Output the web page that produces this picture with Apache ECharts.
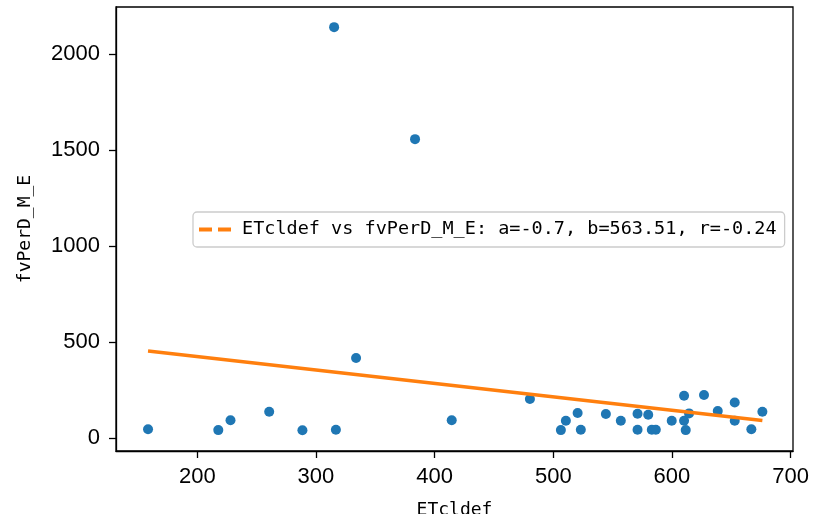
<!DOCTYPE html>
<html>
<head>
<meta charset="utf-8">
<script src="https://cdn.jsdelivr.net/npm/echarts@6/dist/echarts.min.js"></script>
<style>html,body{margin:0;padding:0;background:#fff}#c{width:813px;height:514px}</style>
</head>
<body>
<div id="c"></div>
<script>
const xValues = [158.5, 217.7, 228, 260.6, 288.6, 316.8, 414.4, 315.3, 383.5, 333.8,
  480.3, 506.4, 510.6, 520.5, 523.2, 544.3, 556.9, 571, 571, 580, 583, 586.4, 599.8,
  610.2, 610.2, 611.6, 614.4, 627, 638.6, 652.9, 652.9, 666.9, 676.2];
const yValues = [44, 40, 91, 136, 39, 42, 91, 2141, 1557, 416,
  202, 40, 89, 129, 42, 124, 89, 125, 42, 120, 42, 42, 89,
  219, 89, 40, 127, 223, 139, 184, 89, 44, 136];
const fitA = -0.7;
const fitB = 563.51;
const fitR = -0.24;
const xTicks = [200, 300, 400, 500, 600, 700];
const yTicks = [0, 500, 1000, 1500, 2000];
const xName = 'ETcldef';
const yName = 'fvPerD_M_E';
const fitName = 'ETcldef vs fvPerD_M_E: a=' + fitA + ', b=' + fitB.toFixed(2) + ', r=' + fitR;

const points = xValues.map((x, i) => [x, yValues[i]]);
const xmin = Math.min(...xValues), xmax = Math.max(...xValues);
const fitLine = [[xmin, fitA * xmin + fitB], [xmax, fitA * xmax + fitB]];

const chart = echarts.init(document.getElementById('c'), null, {renderer: 'canvas'});
const tickFont = {color: '#000', fontSize: 22, fontFamily: 'Liberation Sans', formatter: v => String(v)};
chart.setOption({
  animation: false,
  backgroundColor: '#fff',
  grid: {left: 116, right: 20, top: 7, bottom: 63, show: true, borderColor: '#000', borderWidth: 1.3,
         containLabel: false, outerBoundsMode: 'none'},
  xAxis: {
    type: 'value', min: 131.5, max: 702,
    name: xName, nameLocation: 'middle', nameGap: 50,
    nameTextStyle: {color: '#000', fontSize: 18, fontFamily: 'DejaVu Sans Mono', verticalAlign: 'top'},
    axisLine: {show: true, onZero: false, lineStyle: {color: '#000', width: 1.3}},
    axisTick: {show: true, length: 7, lineStyle: {color: '#000', width: 1.3}, customValues: xTicks},
    axisLabel: Object.assign({margin: 15, customValues: xTicks}, tickFont),
    splitLine: {show: false}
  },
  yAxis: {
    type: 'value', min: -69, max: 2246,
    name: yName, nameLocation: 'middle', nameGap: 82, nameRotate: 90,
    nameTextStyle: {color: '#000', fontSize: 18, fontFamily: 'DejaVu Sans Mono'},
    axisLine: {show: true, onZero: false, lineStyle: {color: '#000', width: 1.3}},
    axisTick: {show: true, length: 7, lineStyle: {color: '#000', width: 1.3}, customValues: yTicks},
    axisLabel: Object.assign({margin: 16, customValues: yTicks}, tickFont),
    splitLine: {show: false}
  },
  legend: {
    show: true,
    data: [{name: fitName, icon: 'path://M0,0h13v4h-13z M19,0h13v4h-13z',
            itemStyle: {color: '#ff7f0e', opacity: 1}}],
    left: 193, top: 212, width: 590,
    padding: [8, 8, 8, 6],
    itemWidth: 32, itemHeight: 4, itemGap: 8,
    borderColor: '#cccccc', borderWidth: 1.3, borderRadius: 4,
    backgroundColor: 'rgba(255,255,255,0.8)',
    textStyle: {color: '#000', fontSize: 18.5, fontFamily: 'DejaVu Sans Mono', padding: [0, 0, 0, 6]}
  },
  series: [
    {
      type: 'scatter', name: 'data', data: points,
      symbol: 'circle', symbolSize: 10,
      itemStyle: {color: '#1f77b4', opacity: 1}
    },
    {
      type: 'line', name: fitName, data: fitLine,
      symbol: 'none', showSymbol: false,
      lineStyle: {color: '#ff7f0e', width: 3.5, type: 'solid'},
      itemStyle: {color: '#ff7f0e'}
    }
  ]
});
</script>
</body>
</html>
